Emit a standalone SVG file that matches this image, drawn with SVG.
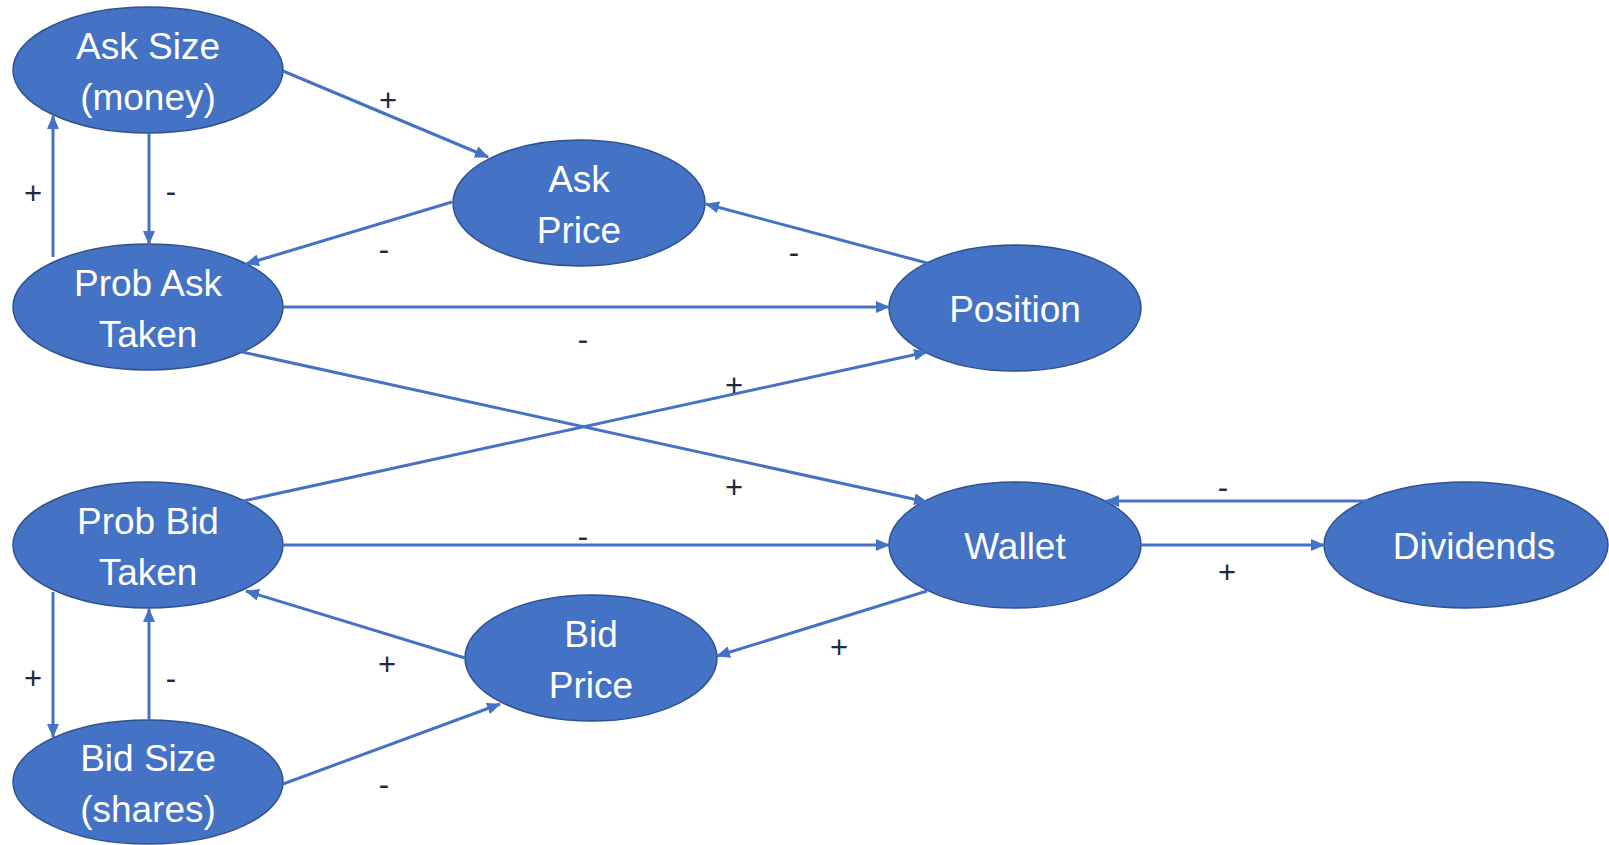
<svg xmlns="http://www.w3.org/2000/svg" width="1609" height="845" viewBox="0 0 1609 845">
  <style>
    .node ellipse { fill: #4472C4; stroke: #2F528F; stroke-width: 1.5; }
    .node text { fill: #FFFFFF; font-family: "Liberation Sans", Arial, sans-serif; font-size: 37px; text-anchor: middle; }
    .edge { stroke: #4472C4; stroke-width: 3; fill: none; marker-end: url(#arrow); }
    .sign { fill: #1E2A40; font-family: "Liberation Sans", Arial, sans-serif; font-size: 31px; text-anchor: middle; }
  </style>
  <defs>
    <marker id="arrow" markerUnits="userSpaceOnUse" markerWidth="14" markerHeight="12" refX="13" refY="6" orient="auto">
      <path d="M0,0 L14,6 L0,12 z" fill="#4472C4"/>
    </marker>
  </defs>
  <rect width="1609" height="845" fill="#FFFFFF"/>

  <g id="ask-size" class="node">
    <ellipse cx="148" cy="70" rx="135" ry="63"/>
    <text x="148" y="59">Ask Size</text>
    <text x="148" y="110">(money)</text>
  </g>
  <g id="prob-ask-taken" class="node">
    <ellipse cx="148" cy="307" rx="135" ry="63"/>
    <text x="148" y="296">Prob Ask</text>
    <text x="148" y="347">Taken</text>
  </g>
  <g id="ask-price" class="node">
    <ellipse cx="579" cy="203" rx="126" ry="63"/>
    <text x="579" y="192">Ask</text>
    <text x="579" y="243">Price</text>
  </g>
  <g id="position" class="node">
    <ellipse cx="1015" cy="308" rx="126" ry="63"/>
    <text x="1015" y="322">Position</text>
  </g>
  <g id="prob-bid-taken" class="node">
    <ellipse cx="148" cy="545" rx="135" ry="63"/>
    <text x="148" y="534">Prob Bid</text>
    <text x="148" y="585">Taken</text>
  </g>
  <g id="wallet" class="node">
    <ellipse cx="1015" cy="545" rx="126" ry="63"/>
    <text x="1015" y="559">Wallet</text>
  </g>
  <g id="dividends" class="node">
    <ellipse cx="1466" cy="545" rx="142" ry="63"/>
    <text x="1474" y="559">Dividends</text>
  </g>
  <g id="bid-price" class="node">
    <ellipse cx="591" cy="658" rx="126" ry="63"/>
    <text x="591" y="647">Bid</text>
    <text x="591" y="698">Price</text>
  </g>
  <g id="bid-size" class="node">
    <ellipse cx="148" cy="782" rx="135" ry="62"/>
    <text x="148" y="771">Bid Size</text>
    <text x="148" y="822">(shares)</text>
  </g>

  <g id="connectors">
    <line class="edge" x1="283" y1="71" x2="488" y2="157"/>
    <line class="edge" x1="149" y1="133" x2="149" y2="244"/>
    <line class="edge" x1="53" y1="257" x2="53" y2="116"/>
    <line class="edge" x1="452" y1="202" x2="246" y2="264"/>
    <line class="edge" x1="927" y1="263" x2="706" y2="204"/>
    <line class="edge" x1="283" y1="307" x2="889" y2="307"/>
    <line class="edge" x1="242" y1="352" x2="927" y2="502"/>
    <line class="edge" x1="243" y1="501" x2="927" y2="352"/>
    <line class="edge" x1="283" y1="545" x2="889" y2="545"/>
    <line class="edge" x1="1368" y1="501" x2="1106" y2="501"/>
    <line class="edge" x1="1141" y1="545" x2="1324" y2="545"/>
    <line class="edge" x1="927" y1="591" x2="717" y2="656"/>
    <line class="edge" x1="465" y1="658" x2="246" y2="591"/>
    <line class="edge" x1="53" y1="592" x2="53" y2="737"/>
    <line class="edge" x1="149" y1="720" x2="149" y2="609"/>
    <line class="edge" x1="283" y1="784" x2="500" y2="704"/>
  </g>

  <g id="signs">
    <text class="sign" x="388" y="111">+</text>
    <text class="sign" x="33" y="204">+</text>
    <text class="sign" x="171" y="202">-</text>
    <text class="sign" x="384" y="260">-</text>
    <text class="sign" x="794" y="263">-</text>
    <text class="sign" x="583" y="350">-</text>
    <text class="sign" x="734" y="396">+</text>
    <text class="sign" x="734" y="498">+</text>
    <text class="sign" x="583" y="547">-</text>
    <text class="sign" x="1223" y="498">-</text>
    <text class="sign" x="1227" y="583">+</text>
    <text class="sign" x="839" y="658">+</text>
    <text class="sign" x="387" y="675">+</text>
    <text class="sign" x="33" y="689">+</text>
    <text class="sign" x="171" y="689">-</text>
    <text class="sign" x="384" y="795">-</text>
  </g>
</svg>
